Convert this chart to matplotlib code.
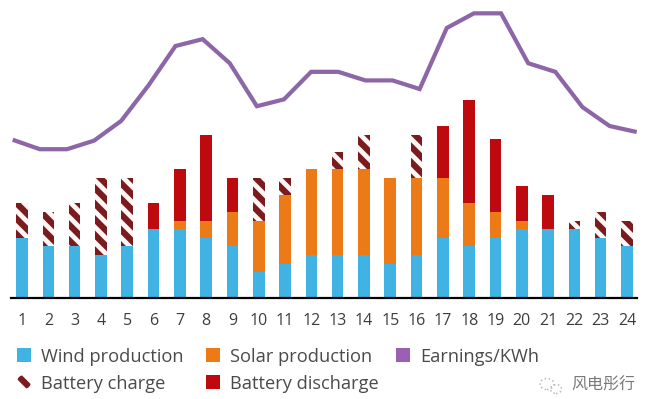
import matplotlib
matplotlib.use("Agg")
import matplotlib.pyplot as plt
from matplotlib.patches import Rectangle, Ellipse
import numpy as np

# ---------------- data ----------------
hours = list(range(1, 25))
hour_labels = [str(h) for h in hours]
wind = [7, 6, 6, 5, 6, 8, 8, 7, 6, 3, 4, 5, 5, 5, 4, 5, 7, 6, 7, 8, 8, 8, 7, 6]
solar = [0, 0, 0, 0, 0, 0, 1, 2, 4, 6, 8, 10, 10, 10, 10, 9, 7, 5, 3, 1, 0, 0, 0, 0]
battery_charge = [4, 4, 5, 9, 8, 0, 0, 0, 0, 5, 2, 0, 2, 4, 0, 5, 0, 0, 0, 0, 0, 1, 3, 3]
battery_discharge = [0, 0, 0, 0, 0, 3, 6, 10, 4, 0, 0, 0, 0, 0, 0, 0, 6, 12, 8.5, 4, 4, 0, 0, 0]
earnings = [18.4, 17.3, 17.3, 18.3, 20.6, 24.7, 29.3, 30.1, 27.3, 22.3, 23.1, 26.3,
            26.3, 25.3, 25.3, 24.3, 31.4, 33.1, 33.1, 27.3, 26.3, 22.2, 20.0, 19.3]
legend_labels = ["Wind production", "Solar production", "Earnings/KWh",
                 "Battery charge", "Battery discharge"]
watermark = "风电彤行"

# ---------------- style ----------------
DPI = 140
W, H = 656, 399
def pt(px):
    return px * 72.0 / DPI

C_WIND = "#41B3E3"
C_SOLAR = "#EC7A16"
C_DIS = "#BE0A0E"
C_CHG = "#7A1B1E"
C_LINE = "#8C66A6"
C_EARN_SQ = "#9960B4"
C_TEXT = "#4a4a4a"
HATCH = "\\\\\\"

plt.rcParams["font.family"] = ["Open Sans", "DejaVu Sans"]
plt.rcParams["hatch.linewidth"] = 3.2

fig = plt.figure(figsize=(W / DPI, H / DPI), dpi=DPI)
fig.patch.set_facecolor("white")

base_px = 298
unit_px = 8.6
rect = [11 / W, (H - base_px) / H, 626 / W, base_px / H]
ax = fig.add_axes(rect)
ax.set_xlim(0.58, 24.38)
ax.set_ylim(0, base_px / unit_px)

w = np.array(wind, dtype=float)
s = np.array(solar, dtype=float)
ch = np.array(battery_charge, dtype=float)
dc = np.array(battery_discharge, dtype=float)
bw = 0.44

ax.bar(hours, w, width=bw, color=C_WIND, linewidth=0)
ax.bar(hours, s, bottom=w, width=bw, color=C_SOLAR, linewidth=0)
ax.bar(hours, dc, bottom=w + s, width=bw, color=C_DIS, linewidth=0)
ax.bar(hours, ch, bottom=w + s, width=bw, facecolor="#fff6f6",
       edgecolor=C_CHG, hatch=HATCH, linewidth=0)

for sp in ["top", "left", "right"]:
    ax.spines[sp].set_visible(False)
ax.spines["bottom"].set_color("black")
ax.spines["bottom"].set_linewidth(pt(2.2))
ax.set_yticks([])
ax.set_xticks(hours)
ax.set_xticklabels(hour_labels)
ax.tick_params(axis="x", length=0, pad=pt(15), labelsize=pt(16), labelcolor="#3d3d3d")
ax.patch.set_alpha(0)

# earnings line on an overlaid axes (line spans slightly wider than bars)
ax2 = fig.add_axes(rect)
ax2.set_xlim(0.937, 24.011)
ax2.set_ylim(0, base_px / unit_px)
ax2.plot(hours, earnings, color=C_LINE, linewidth=pt(4.2), solid_joinstyle="miter",
         solid_capstyle="butt")
ax2.axis("off")
ax2.patch.set_alpha(0)

# ---------------- legend ----------------
def fx(px):
    return px / W
def fy(px):
    return (H - px) / H

sq = 14
fs_leg = pt(18.2)
rows = [362, 389]
entries = [
    (17, 0, legend_labels[0], C_WIND, None),
    (206, 0, legend_labels[1], C_SOLAR, None),
    (396, 0, legend_labels[2], C_EARN_SQ, None),
    (17, 1, legend_labels[3], None, "hatch"),
    (206, 1, legend_labels[4], C_DIS, None),
]
for x0, r, lab, col, kind in entries:
    yb = rows[r]
    if kind == "hatch":
        p = Ellipse((fx(x0 + sq / 2), fy(yb - sq / 2)), width=sq / W, height=sq / H,
                    transform=fig.transFigure, facecolor="white", edgecolor=C_CHG,
                    hatch=HATCH, linewidth=0)
    else:
        p = Rectangle((fx(x0), fy(yb)), sq / W, sq / H, transform=fig.transFigure,
                      facecolor=col, edgecolor="none")
    fig.add_artist(p)
    fig.text(fx(x0 + 24), fy(yb), lab, fontsize=fs_leg, color=C_TEXT,
             ha="left", va="baseline")

# watermark
fig.add_artist(Ellipse((fx(547), fy(384)), 14 / W, 11 / H, transform=fig.transFigure,
                       facecolor="none", edgecolor="#bbbbbb", linestyle=":", linewidth=0.8))
fig.add_artist(Ellipse((fx(556), fy(389)), 11 / W, 9 / H, transform=fig.transFigure,
                       facecolor="none", edgecolor="#bbbbbb", linestyle=":", linewidth=0.8))
fig.text(fx(571), fy(385), watermark, fontsize=pt(16), color="#7a7a7a",
         family=["Noto Sans CJK SC", "DejaVu Sans"], ha="left", va="center")

fig.savefig("out.png", dpi=DPI)
